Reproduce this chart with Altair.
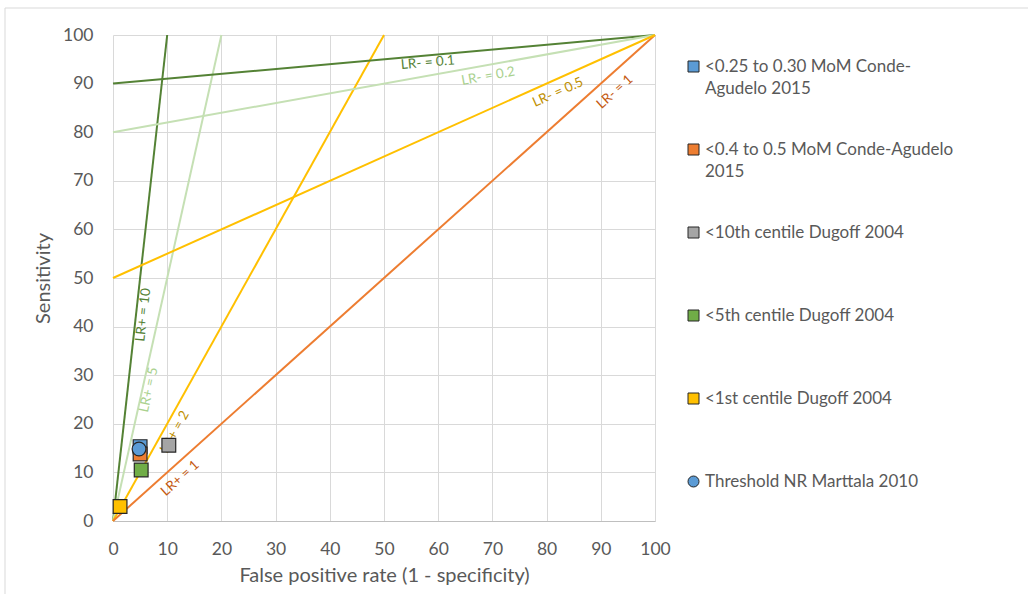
import math
import altair as alt
import pandas as pd

W, H = 542, 486

# ---------------- data ----------------
# likelihood-ratio reference lines (start and end points in % units)
line_names = ["LR+ = 10", "LR+ = 5", "LR+ = 2", "LR+ = 1", "LR- = 0.1", "LR- = 0.2", "LR- = 0.5"]
line_x0 = [0, 0, 0, 0, 0, 0, 0]
line_y0 = [0, 0, 0, 0, 90, 80, 50]
line_x1 = [10, 20, 50, 100, 100, 100, 100]
line_y1 = [100, 100, 100, 100, 100, 100, 100]

# line annotation labels: text, anchor point, and the line they follow
label_text = ["LR+ = 10", "LR+ = 5", "LR+ = 2", "LR+ = 1", "LR- = 0.1", "LR- = 0.2", "LR- = 0.5", "LR- = 1"]
label_x = [5.6, 6.6, 11.4, 12.4, 58.1, 69.2, 82.1, 92.6]
label_y = [42.4, 27.0, 18.3, 8.8, 94.3, 91.5, 88.2, 88.3]
label_line = ["LR+ = 10", "LR+ = 5", "LR+ = 2", "LR+ = 1", "LR- = 0.1", "LR- = 0.2", "LR- = 0.5", "LR+ = 1"]

# studies
study_names = [
    "<0.25 to 0.30 MoM Conde-Agudelo 2015",
    "<0.4 to 0.5 MoM Conde-Agudelo 2015",
    "<10th centile Dugoff 2004",
    "<5th centile Dugoff 2004",
    "<1st centile Dugoff 2004",
    "Threshold NR Marttala 2010",
]
study_fpr = [5.0, 5.0, 10.3, 5.2, 1.3, 4.8]
study_sens = [15.3, 13.8, 15.6, 10.5, 3.0, 14.8]

# ---------------- styles ----------------
line_colors = {
    "LR+ = 10": "#548235", "LR- = 0.1": "#548235",
    "LR+ = 5": "#C5E0B4", "LR- = 0.2": "#C5E0B4",
    "LR+ = 2": "#FFC000", "LR- = 0.5": "#FFC000",
    "LR+ = 1": "#ED7D31",
}
label_colors = {
    "#548235": "#548235", "#C5E0B4": "#A9D18E",
    "#FFC000": "#BF9000", "#ED7D31": "#C55A11",
}
study_colors = ["#5B9BD5", "#ED7D31", "#A5A5A5", "#70AD47", "#FFC000", "#5B9BD5"]
study_shapes = ["square", "square", "square", "square", "square", "circle"]
FONT = "Lato"
GREY = "#595959"

# ---------------- tables ----------------
rows = []
for i, n in enumerate(line_names):
    rows.append({"line": n, "order": 0, "x": line_x0[i], "y": line_y0[i]})
    rows.append({"line": n, "order": 1, "x": line_x1[i], "y": line_y1[i]})
lines_df = pd.DataFrame(rows)

def angle_of(name):
    i = line_names.index(name)
    dx = (line_x1[i] - line_x0[i]) * W / 100.0
    dy = (line_y1[i] - line_y0[i]) * H / 100.0
    return (360 - math.degrees(math.atan2(dy, dx))) % 360

labels_df = pd.DataFrame({
    "text": label_text,
    "x": label_x,
    "y": label_y,
    "angle": [angle_of(l) for l in label_line],
    "lcolor": [label_colors[line_colors[l]] for l in label_line],
})

pts_df = pd.DataFrame({"study": study_names, "x": study_fpr, "y": study_sens, "order": list(range(len(study_names)))})

xs = alt.Scale(domain=[0, 100], nice=False, zero=False)
ys = alt.Scale(domain=[0, 100], nice=False, zero=False)

frame = alt.Chart(pd.DataFrame({"a": [0]})).mark_rect(
    fill=None, stroke="#D9D9D9", strokeWidth=1
).encode(
    x=alt.value(-108), x2=alt.value(W + 400), y=alt.value(-27), y2=alt.value(H + 120)
)

lines = alt.Chart(lines_df).mark_line(strokeWidth=2).encode(
    x=alt.X("x:Q", scale=xs,
            axis=alt.Axis(values=list(range(0, 101, 10)), title="False positive rate (1 - specificity)")),
    y=alt.Y("y:Q", scale=ys,
            axis=alt.Axis(values=list(range(0, 101, 10)), title="Sensitivity")),
    detail="line:N",
    order="order:Q",
    stroke=alt.Stroke("line:N", scale=alt.Scale(domain=list(line_colors.keys()),
                                                range=list(line_colors.values())), legend=None),
)

texts = alt.Chart(labels_df).mark_text(font=FONT, fontSize=13.5, align="center", baseline="middle").encode(
    x=alt.X("x:Q", scale=xs),
    y=alt.Y("y:Q", scale=ys),
    text="text:N",
    angle=alt.Angle("angle:Q", scale=None),
    fill=alt.Fill("lcolor:N", scale=None),
)

label_expr = (
    "datum.label == '<0.25 to 0.30 MoM Conde-Agudelo 2015' ? ['<0.25 to 0.30 MoM Conde-', 'Agudelo 2015'] : "
    "datum.label == '<0.4 to 0.5 MoM Conde-Agudelo 2015' ? ['<0.4 to 0.5 MoM Conde-Agudelo', '2015'] : datum.label"
)

points = alt.Chart(pts_df).mark_point(filled=True, size=190, stroke="#262626", strokeWidth=1.2, opacity=1).encode(
    x=alt.X("x:Q", scale=xs),
    y=alt.Y("y:Q", scale=ys),
    order="order:Q",
    color=alt.Color("study:N", scale=alt.Scale(domain=study_names, range=study_colors),
                    legend=alt.Legend(title=None, orient="none", legendX=572, legendY=23,
                                      labelExpr=label_expr)),
    shape=alt.Shape("study:N", scale=alt.Scale(domain=study_names, range=study_shapes)),
)

chart = alt.layer(frame, lines, texts, points).resolve_scale(
    color="independent", stroke="independent", fill="independent", shape="independent"
).properties(
    width=W, height=H,
    autosize=alt.AutoSizeParams(type="none"),
    padding={"left": 113, "top": 35, "right": 373, "bottom": 73},
).configure(
    style={"guide-label": {"lineHeight": 22.5}}
).configure_view(stroke=None).configure_axis(
    grid=True, gridColor="#D9D9D9", gridWidth=1,
    domain=False, ticks=False, labelFlush=False,
    labelFont=FONT, labelFontSize=17.5, labelColor=GREY,
    titleFont=FONT, titleFontSize=20, titleColor=GREY, titleFontWeight="normal",
).configure_axisX(
    domain=True, domainColor="#BFBFBF", labelPadding=19, titlePadding=8,
).configure_axisY(
    labelPadding=20, titlePadding=9,
).configure_legend(
    labelFont=FONT, labelFontSize=17, labelColor=GREY, labelLimit=400,
    symbolSize=121, symbolStrokeColor="#262626", symbolStrokeWidth=1,
    rowPadding=43, gridAlign="all", labelOffset=3,
)

chart.save("out.html", embed_options={"renderer": "svg", "actions": False})
